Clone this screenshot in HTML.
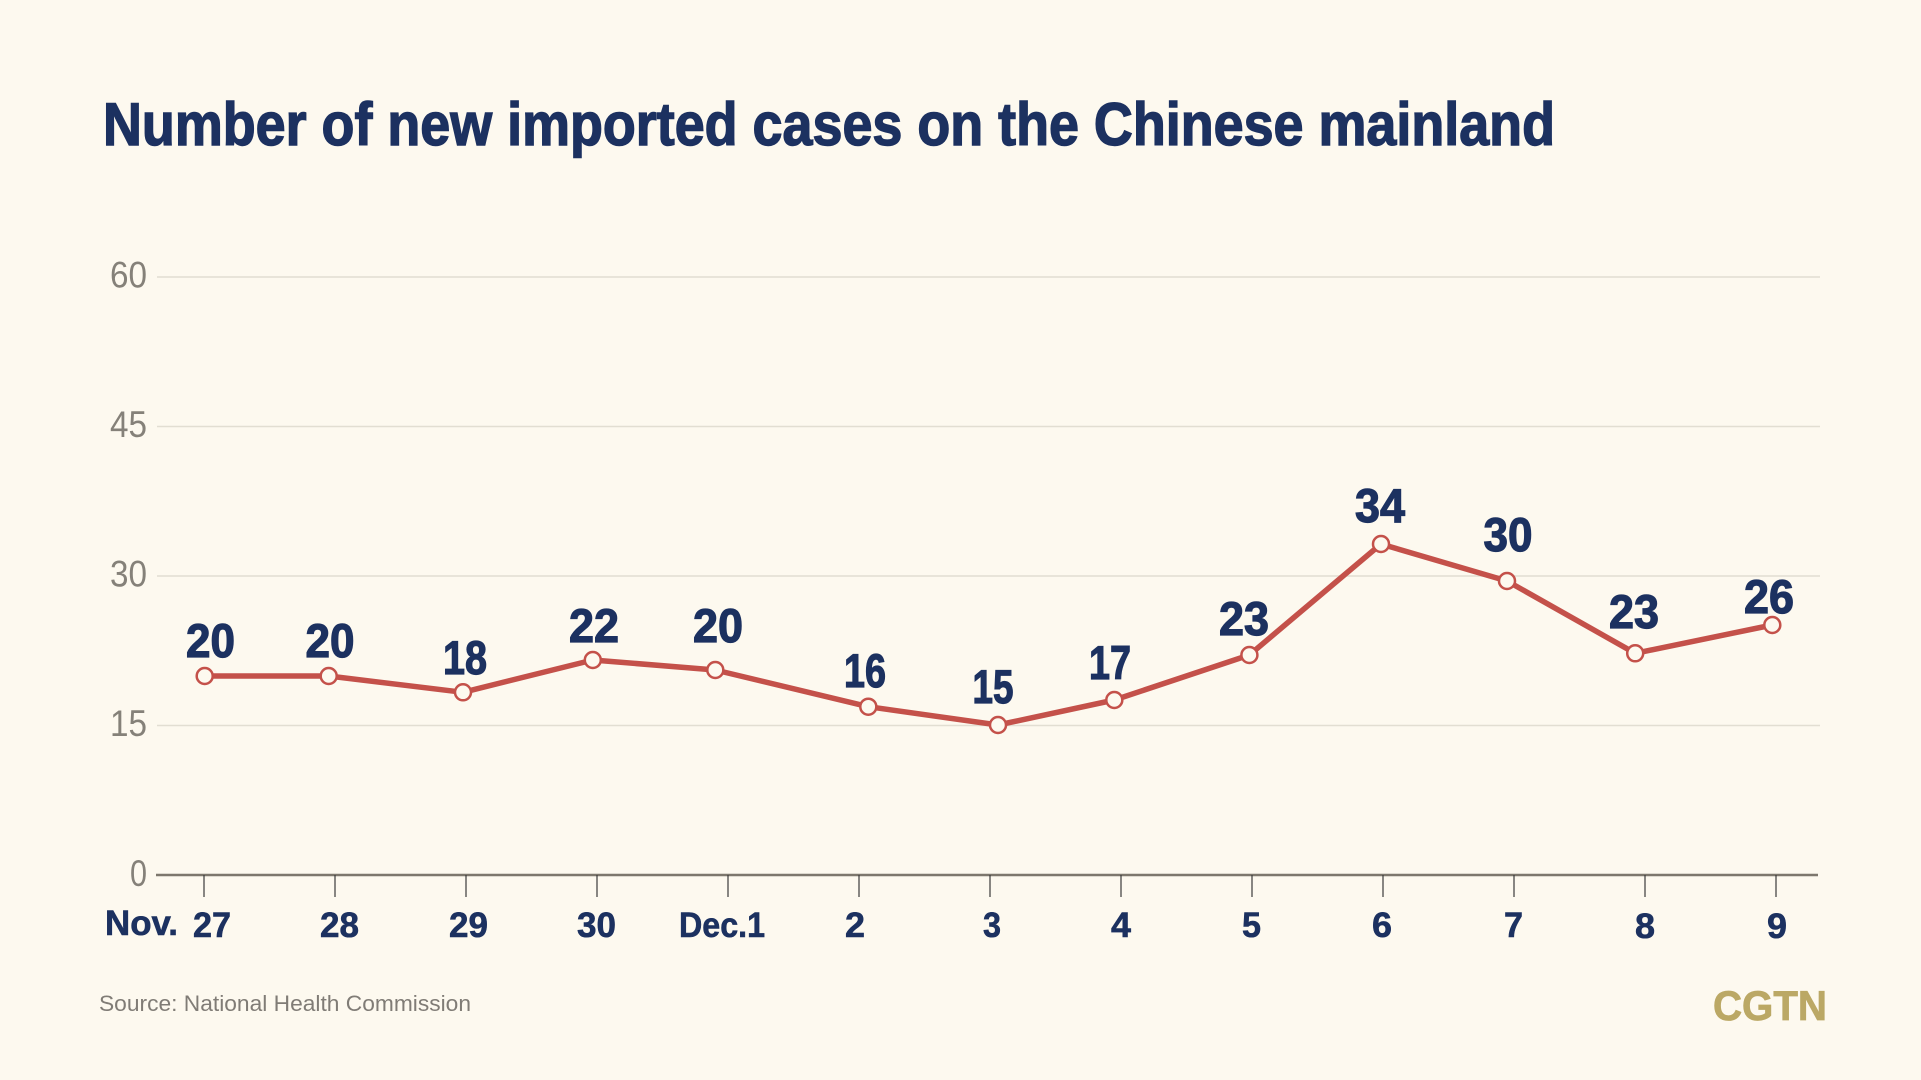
<!DOCTYPE html>
<html>
<head>
<meta charset="utf-8">
<style>
html,body{margin:0;padding:0;background:#fdf9ef;}
svg{display:block;}
</style>
</head>
<body>
<svg width="1921" height="1080" viewBox="0 0 1921 1080" xmlns="http://www.w3.org/2000/svg">
<rect x="0" y="0" width="1921" height="1080" fill="#fdf9ef"/>
<!-- Title -->
<text x="103" y="145" font-family="Liberation Sans, sans-serif" font-weight="bold" font-size="60" fill="#1c3160" stroke="#1c3160" stroke-width="1.4" textLength="1452" lengthAdjust="spacingAndGlyphs">Number of new imported cases on the Chinese mainland</text>

<!-- gridlines -->
<g stroke="#e2ded2" stroke-width="1.5">
<line x1="157" y1="277" x2="1820" y2="277"/>
<line x1="157" y1="426.5" x2="1820" y2="426.5"/>
<line x1="157" y1="576" x2="1820" y2="576"/>
<line x1="157" y1="725.5" x2="1820" y2="725.5"/>
</g>

<!-- y labels -->
<g font-family="Liberation Sans, sans-serif" font-size="37" fill="#858179" text-anchor="end">
<text x="147" y="287.5" textLength="37" lengthAdjust="spacingAndGlyphs">60</text>
<text x="147" y="437" textLength="37" lengthAdjust="spacingAndGlyphs">45</text>
<text x="147" y="586.5" textLength="37" lengthAdjust="spacingAndGlyphs">30</text>
<text x="147" y="736" textLength="37" lengthAdjust="spacingAndGlyphs">15</text>
<text x="147" y="886" textLength="17" lengthAdjust="spacingAndGlyphs">0</text>
</g>

<!-- axis -->
<line x1="156" y1="875" x2="1818" y2="875" stroke="#7d776d" stroke-width="2.5"/>
<g stroke="#3a3a3a" stroke-width="1.2">
<line x1="204" y1="875" x2="204" y2="897"/>
<line x1="335" y1="875" x2="335" y2="897"/>
<line x1="466" y1="875" x2="466" y2="897"/>
<line x1="597" y1="875" x2="597" y2="897"/>
<line x1="728" y1="875" x2="728" y2="897"/>
<line x1="859" y1="875" x2="859" y2="897"/>
<line x1="990" y1="875" x2="990" y2="897"/>
<line x1="1121" y1="875" x2="1121" y2="897"/>
<line x1="1252" y1="875" x2="1252" y2="897"/>
<line x1="1383" y1="875" x2="1383" y2="897"/>
<line x1="1514" y1="875" x2="1514" y2="897"/>
<line x1="1645" y1="875" x2="1645" y2="897"/>
<line x1="1776" y1="875" x2="1776" y2="897"/>
</g>

<!-- x labels -->
<g font-family="Liberation Sans, sans-serif" font-weight="bold" font-size="35" fill="#1c3160" stroke="#1c3160" stroke-width="0.6">
<text x="105" y="935" textLength="73" lengthAdjust="spacingAndGlyphs">Nov.</text>
<text x="193" y="937" textLength="38" lengthAdjust="spacingAndGlyphs">27</text>
<text x="320" y="937" textLength="39" lengthAdjust="spacingAndGlyphs">28</text>
<text x="449" y="937" textLength="39" lengthAdjust="spacingAndGlyphs">29</text>
<text x="577" y="937" textLength="39" lengthAdjust="spacingAndGlyphs">30</text>
<text x="679" y="937" textLength="86" lengthAdjust="spacingAndGlyphs">Dec.1</text>
<text x="845" y="937" textLength="20" lengthAdjust="spacingAndGlyphs">2</text>
<text x="983" y="937" textLength="18" lengthAdjust="spacingAndGlyphs">3</text>
<text x="1111" y="937" textLength="20" lengthAdjust="spacingAndGlyphs">4</text>
<text x="1242" y="937" textLength="19" lengthAdjust="spacingAndGlyphs">5</text>
<text x="1372" y="937" textLength="20" lengthAdjust="spacingAndGlyphs">6</text>
<text x="1504" y="937" textLength="19" lengthAdjust="spacingAndGlyphs">7</text>
<text x="1635" y="938" textLength="20" lengthAdjust="spacingAndGlyphs">8</text>
<text x="1767" y="938" textLength="20" lengthAdjust="spacingAndGlyphs">9</text>
</g>

<!-- series line -->
<polyline fill="none" stroke="#c4514a" stroke-width="5.5" stroke-linejoin="round" points="204.7,676 328.7,676 463,692.3 592.8,660 715.3,670 868.3,706.7 998,725 1114.3,700 1249.4,655 1381,544 1507,581 1635.2,653.3 1772.3,625"/>
<g fill="#fdf9ef" stroke="#c4514a" stroke-width="2.5">
<circle cx="204.7" cy="676" r="8"/>
<circle cx="328.7" cy="676" r="8"/>
<circle cx="463" cy="692.3" r="8"/>
<circle cx="592.8" cy="660" r="8"/>
<circle cx="715.3" cy="670" r="8"/>
<circle cx="868.3" cy="706.7" r="8"/>
<circle cx="998" cy="725" r="8"/>
<circle cx="1114.3" cy="700" r="8"/>
<circle cx="1249.4" cy="655" r="8"/>
<circle cx="1381" cy="544" r="8"/>
<circle cx="1507" cy="581" r="8"/>
<circle cx="1635.2" cy="653.3" r="8"/>
<circle cx="1772.3" cy="625" r="8"/>
</g>

<!-- value labels -->
<g font-family="Liberation Sans, sans-serif" font-weight="bold" font-size="47" fill="#1c3160" stroke="#1c3160" stroke-width="1.2" text-anchor="middle">
<text x="210.5" y="657" textLength="49" lengthAdjust="spacingAndGlyphs">20</text>
<text x="330" y="657" textLength="49" lengthAdjust="spacingAndGlyphs">20</text>
<text x="465" y="674" textLength="44" lengthAdjust="spacingAndGlyphs">18</text>
<text x="594" y="642" textLength="50" lengthAdjust="spacingAndGlyphs">22</text>
<text x="718" y="642" textLength="50" lengthAdjust="spacingAndGlyphs">20</text>
<text x="865" y="687" textLength="42" lengthAdjust="spacingAndGlyphs">16</text>
<text x="993" y="703" textLength="41" lengthAdjust="spacingAndGlyphs">15</text>
<text x="1110" y="679" textLength="42" lengthAdjust="spacingAndGlyphs">17</text>
<text x="1244" y="635" textLength="50" lengthAdjust="spacingAndGlyphs">23</text>
<text x="1380" y="522" textLength="50" lengthAdjust="spacingAndGlyphs">34</text>
<text x="1508" y="551" textLength="49" lengthAdjust="spacingAndGlyphs">30</text>
<text x="1634" y="628" textLength="50" lengthAdjust="spacingAndGlyphs">23</text>
<text x="1769" y="613" textLength="50" lengthAdjust="spacingAndGlyphs">26</text>
</g>

<!-- source -->
<text x="99" y="1011" font-family="Liberation Sans, sans-serif" font-size="22" fill="#807c76" textLength="372" lengthAdjust="spacingAndGlyphs">Source: National Health Commission</text>

<!-- logo -->
<text x="1713" y="1020" font-family="Liberation Sans, sans-serif" font-weight="bold" font-size="42" fill="#bba865" stroke="#bba865" stroke-width="0.8" textLength="114" lengthAdjust="spacingAndGlyphs">CGTN</text>
</svg>
</body>
</html>
